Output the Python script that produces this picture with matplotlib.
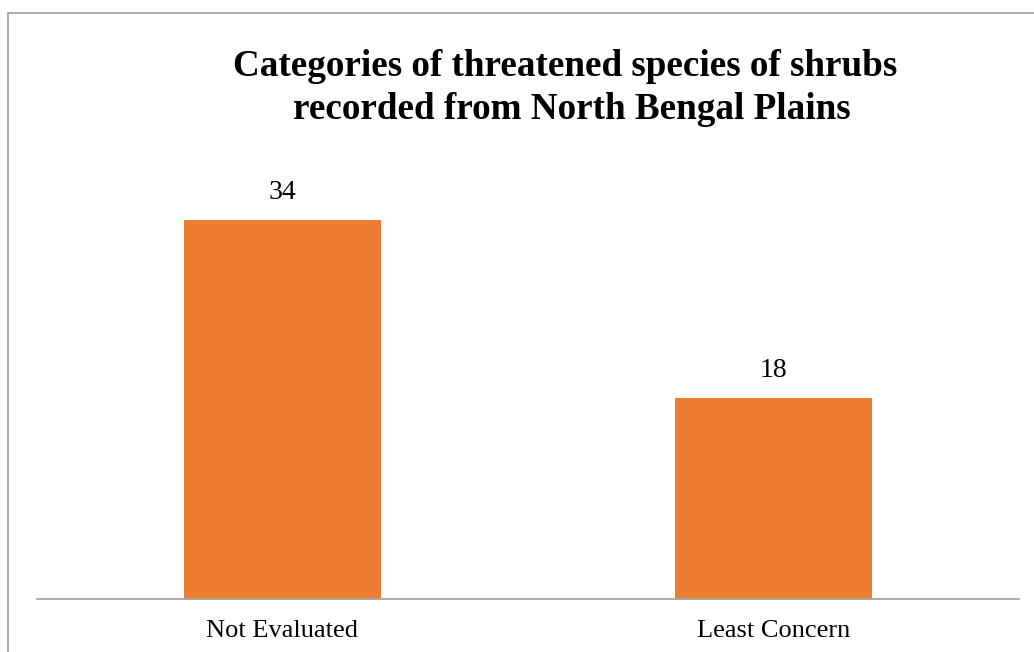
import matplotlib
matplotlib.use("Agg")
import matplotlib.pyplot as plt
from matplotlib.patches import Rectangle

categories = ["Not Evaluated", "Least Concern"]
counts = [34, 18]

title_lines = ["Categories of threatened species of shrubs",
               "recorded from North Bengal Plains"]
bar_color = "#ED7D31"

plt.rcParams["font.family"] = ["Liberation Serif", "DejaVu Serif"]

W, H = 1034, 652
fig = plt.figure(figsize=(W / 100, H / 100), dpi=100)

# outer chart border (only left/top edges visible in the reference)
fig.patches.append(Rectangle((8 / W, -0.05), 1.2, 1 - 13 / H + 0.05,
                             transform=fig.transFigure, fill=False,
                             edgecolor="#a6a6a6", linewidth=1.3))

ax = fig.add_axes([37 / W, 53 / H, 982 / W, 446 / H])
x = range(len(categories))
bars = ax.bar(x, counts, width=0.4, color=bar_color)
ax.set_xlim(-0.5, len(categories) - 0.5)
ax.set_ylim(0, 40)

for b, v in zip(bars, counts):
    ax.annotate(str(v), (b.get_x() + b.get_width() / 2, v),
                xytext=(0, 11), textcoords="offset points",
                ha="center", va="bottom", fontsize=20)

ax.set_xticks(list(x))
ax.set_xticklabels(categories, fontsize=19)
ax.tick_params(axis="x", length=0, pad=15)
ax.set_yticks([])
for s in ["top", "right", "left"]:
    ax.spines[s].set_visible(False)
ax.spines["bottom"].set_color("#a6a6a6")
ax.spines["bottom"].set_linewidth(1.3)

# title, one text per line to match the per-line centring of the original
for line, (cx, base) in zip(title_lines, [(565, 76), (572, 119)]):
    fig.text(cx / W, 1 - base / H, line, ha="center", va="baseline",
             fontsize=26.7, fontweight="bold")

fig.savefig("out.png", dpi=100)
